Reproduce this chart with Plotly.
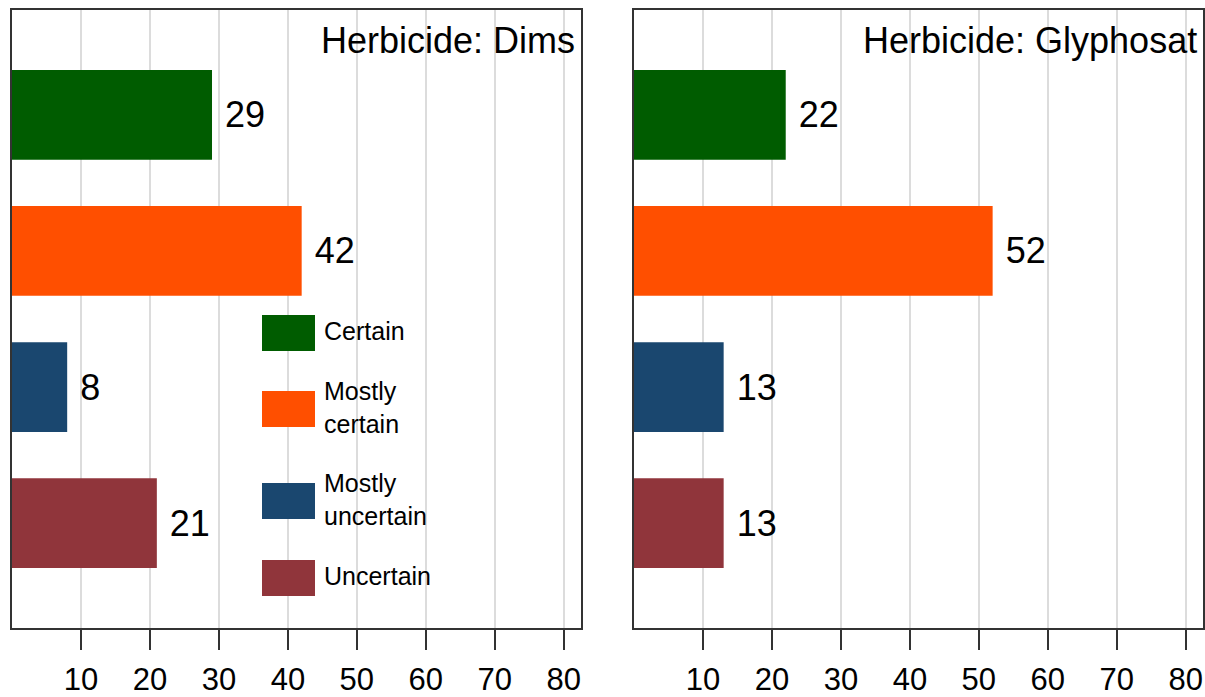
import plotly.graph_objects as go

categories = ["Certain", "Mostly certain", "Mostly uncertain", "Uncertain"]
legend_labels = ["Certain", "Mostly<br>certain", "Mostly<br>uncertain", "Uncertain"]
dims = [29, 42, 8, 21]
glyphosat = [22, 52, 13, 13]
panel_titles = ["Herbicide: Dims", "Herbicide: Glyphosat"]
colors = ["#005c00", "#ff4f00", "#1a476f", "#90353b"]
xticks = [10, 20, 30, 40, 50, 60, 70, 80]

W, H = 1205, 697
FONT = "Liberation Sans Narrow, Arial Narrow, Liberation Sans, Arial, sans-serif"


def px_x(v):
    return v / W


def px_y(v):
    return 1 - v / H


fig = go.Figure()

for i, vals in enumerate([dims, glyphosat]):
    fig.add_trace(go.Bar(
        x=vals, y=categories, orientation="h",
        marker_color=colors, marker_line_width=0, width=0.66,
        text=vals, texttemplate="\u00a0%{x}", textposition="outside",
        textfont=dict(size=36, color="black", family=FONT),
        cliponaxis=False, showlegend=False,
        xaxis="x" if i == 0 else "x2", yaxis="y" if i == 0 else "y2",
    ))

axis_common = dict(
    range=[0, 82.5], tickvals=xticks, ticks="outside", ticklen=20, tickwidth=1.5,
    tickcolor="#333", showline=True, linecolor="#333", linewidth=2, mirror=True,
    showgrid=True, gridcolor="#dcdcdc", gridwidth=1.5, zeroline=False,
    tickfont=dict(size=31, color="black", family=FONT), ticklabelstandoff=3,
)
yaxis_common = dict(
    categoryorder="array", categoryarray=categories, range=[3.77, -0.77],
    showticklabels=False, ticks="", showline=True, linecolor="#333", linewidth=1.5,
    mirror=True, showgrid=False, zeroline=False,
)

fig.update_layout(
    width=W, height=H, margin=dict(l=0, r=0, t=0, b=0),
    paper_bgcolor="white", plot_bgcolor="white",
    xaxis=dict(domain=[px_x(12), px_x(581)], anchor="y", **axis_common),
    xaxis2=dict(domain=[px_x(634), px_x(1203)], anchor="y2", **axis_common),
    yaxis=dict(domain=[px_y(628), px_y(10)], anchor="x", **yaxis_common),
    yaxis2=dict(domain=[px_y(628), px_y(10)], anchor="x2", **yaxis_common),
    font=dict(family=FONT),
)

# panel titles
for i, t in enumerate(panel_titles):
    fig.add_annotation(
        text=t, xref="x domain" if i == 0 else "x2 domain", yref="paper",
        x=0.993, y=px_y(18), xanchor="right", yanchor="top", showarrow=False,
        font=dict(size=36, color="black", family=FONT),
    )

# legend drawn inside the left panel
legend_y = [333, 409, 501, 578]
for lab, c, yc in zip(legend_labels, colors, legend_y):
    fig.add_shape(type="rect", xref="paper", yref="paper",
                  x0=px_x(262), x1=px_x(315), y0=px_y(yc + 18), y1=px_y(yc - 18),
                  fillcolor=c, line_width=0)
    fig.add_annotation(text=lab, xref="paper", yref="paper",
                       x=px_x(322), y=px_y(yc - 2), xanchor="left", yanchor="middle",
                       align="left", showarrow=False,
                       font=dict(size=25, color="black", family=FONT))

fig.write_html("out.html", config={"displayModeBar": False},
               post_script="document.body.style.margin='0';")
